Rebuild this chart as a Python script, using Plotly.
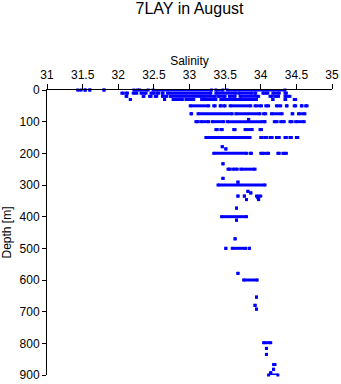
import plotly.graph_objects as go

# Depth [m] of each run of observations, and the salinity range it covers
seg_depth = [
    0, 0, 0, 0, 0, 0, 0, 0, 0,
    10, 10, 10, 10, 10, 10, 10, 10, 10, 10, 10, 10, 10, 10, 10,
    20, 20, 20, 20, 20, 20, 20, 20, 20, 20, 20, 20, 20,
    30, 30, 30, 30, 30, 30, 30, 30, 30,
    50, 50, 50, 50, 50, 50, 50, 50, 50, 50, 50, 50,
    75, 75, 75, 75, 75, 75, 75,
    93,
    100, 100, 100, 100, 100, 100, 100, 100, 100,
    125, 125, 125, 125, 125,
    150, 150, 150, 150, 150, 150, 150, 150,
    179, 186,
    200, 200, 200, 200, 200, 200,
    233,
    250, 250, 250,
    279, 291,
    300,
    320, 325, 335, 335, 335, 340, 346, 346,
    373,
    400, 411, 470,
    500, 500, 500,
    579, 600, 654, 680, 692,
    798, 816, 835, 867, 882, 893, 900,
]
sal_start = [
    31.43, 31.53, 31.60, 31.80, 32.22, 32.30, 32.49, 33.37, 33.53,
    32.05, 32.11, 32.21, 32.32, 32.46, 32.54, 32.62, 32.69, 33.37, 33.69, 33.92, 34.03, 34.08, 34.17, 34.34,
    32.11, 32.35, 32.44, 32.52, 32.62, 32.73, 33.19, 33.40, 33.56, 33.71, 34.13, 34.20, 34.34,
    32.17, 32.65, 32.77, 32.95, 33.17, 33.44, 34.17, 34.34, 34.47,
    33.01, 33.34, 33.43, 33.48, 33.57, 33.92, 34.07, 34.22, 34.36, 34.47, 34.57, 34.63,
    33.02, 33.12, 33.65, 34.04, 34.15, 34.44, 34.53,
    33.83,
    33.09, 33.16, 33.32, 33.53, 34.05, 34.19, 34.28, 34.41, 34.49,
    33.37, 33.44, 33.62, 33.78, 33.99,
    33.23, 34.00, 34.06, 34.13, 34.22, 34.34, 34.41, 34.50,
    33.46, 33.51,
    33.34, 33.85, 34.00, 34.08, 34.24, 34.31,
    33.47,
    33.54, 33.61, 33.72,
    33.47, 33.68,
    33.40,
    33.82, 33.86, 33.68, 33.77, 33.94, 33.96, 33.80, 33.97,
    33.66,
    33.45, 33.66, 33.64,
    33.51, 33.60, 33.84,
    33.68, 33.76, 33.94, 33.92, 33.94,
    34.04, 34.08, 34.08, 34.18, 34.18, 34.14, 34.11,
]
sal_end = [
    31.48, 31.54, 31.60, 31.80, 32.27, 32.42, 33.31, 33.47, 34.34,
    32.07, 32.13, 32.26, 32.39, 32.50, 32.57, 32.63, 33.30, 33.65, 33.88, 33.93, 34.05, 34.10, 34.26, 34.36,
    32.12, 32.36, 32.46, 32.54, 32.68, 33.16, 33.36, 33.50, 33.64, 33.97, 34.16, 34.25, 34.41,
    32.17, 32.65, 32.90, 33.06, 33.37, 33.94, 34.17, 34.35, 34.49,
    33.27, 33.36, 33.44, 33.50, 33.86, 34.01, 34.11, 34.28, 34.37, 34.49, 34.58, 34.65,
    33.03, 33.60, 33.99, 34.07, 34.30, 34.45, 34.62,
    33.83,
    33.12, 33.27, 33.48, 34.02, 34.06, 34.23, 34.33, 34.44, 34.61,
    33.39, 33.46, 33.64, 33.88, 34.01,
    33.85, 34.02, 34.08, 34.16, 34.26, 34.36, 34.43, 34.52,
    33.46, 33.51,
    33.80, 33.87, 34.04, 34.11, 34.26, 34.36,
    33.47,
    33.57, 33.67, 33.92,
    33.47, 33.68,
    34.06,
    33.82, 33.86, 33.68, 33.77, 34.00, 33.96, 33.80, 33.97,
    33.66,
    33.80, 33.66, 33.64,
    33.51, 33.79, 33.84,
    33.68, 33.95, 33.94, 33.92, 33.94,
    34.14, 34.08, 34.08, 34.20, 34.18, 34.14, 34.24,
]

x_ticks = [31, 31.5, 32, 32.5, 33, 33.5, 34, 34.5, 35]
x_ticktext = ["31", "31.5", "32", "32.5", "33", "33.5", "34", "34.5", "35"]
y_ticks = [0, 100, 200, 300, 400, 500, 600, 700, 800, 900]

BLUE = "#0000FF"
FONT = "Liberation Sans, Arial, sans-serif"

xs, ys = [], []
for d, a, b in zip(seg_depth, sal_start, sal_end):
    xs += [a, b, None]
    ys += [d, d, None]

fig = go.Figure()
fig.add_trace(go.Scatter(
    x=xs, y=ys, mode="lines+markers",
    line=dict(color=BLUE, width=3),
    marker=dict(color=BLUE, size=3, symbol="square", line=dict(width=0)),
    cliponaxis=False, showlegend=False, hoverinfo="skip",
))

fig.update_layout(
    width=341, height=384,
    margin=dict(l=47, r=9, t=90, b=9),
    paper_bgcolor="white", plot_bgcolor="white",
    font=dict(family=FONT, size=12, color="black"),
    title=dict(text="7LAY in August", x=0.5, xref="paper", xanchor="center",
               y=0.993, yref="container", yanchor="top",
               font=dict(size=16, family=FONT, color="black")),
    showlegend=False,
)
fig.update_xaxes(
    side="top", range=[31, 35], tickvals=x_ticks, ticktext=x_ticktext,
    showline=True, linecolor="black", linewidth=1,
    ticks="outside", ticklen=5, tickcolor="black", tickwidth=1,
    showgrid=False, zeroline=False,
    title=dict(text="Salinity", standoff=0, font=dict(size=12)),
    automargin=False,
)
fig.update_yaxes(
    range=[900, 0], tickvals=y_ticks,
    showline=True, linecolor="black", linewidth=1,
    ticks="outside", ticklen=4, tickcolor="black", tickwidth=1,
    showgrid=False, zeroline=False,
    title=dict(text="Depth [m]", standoff=8, font=dict(size=12)),
    automargin=False,
)

fig.write_html("out.html")
